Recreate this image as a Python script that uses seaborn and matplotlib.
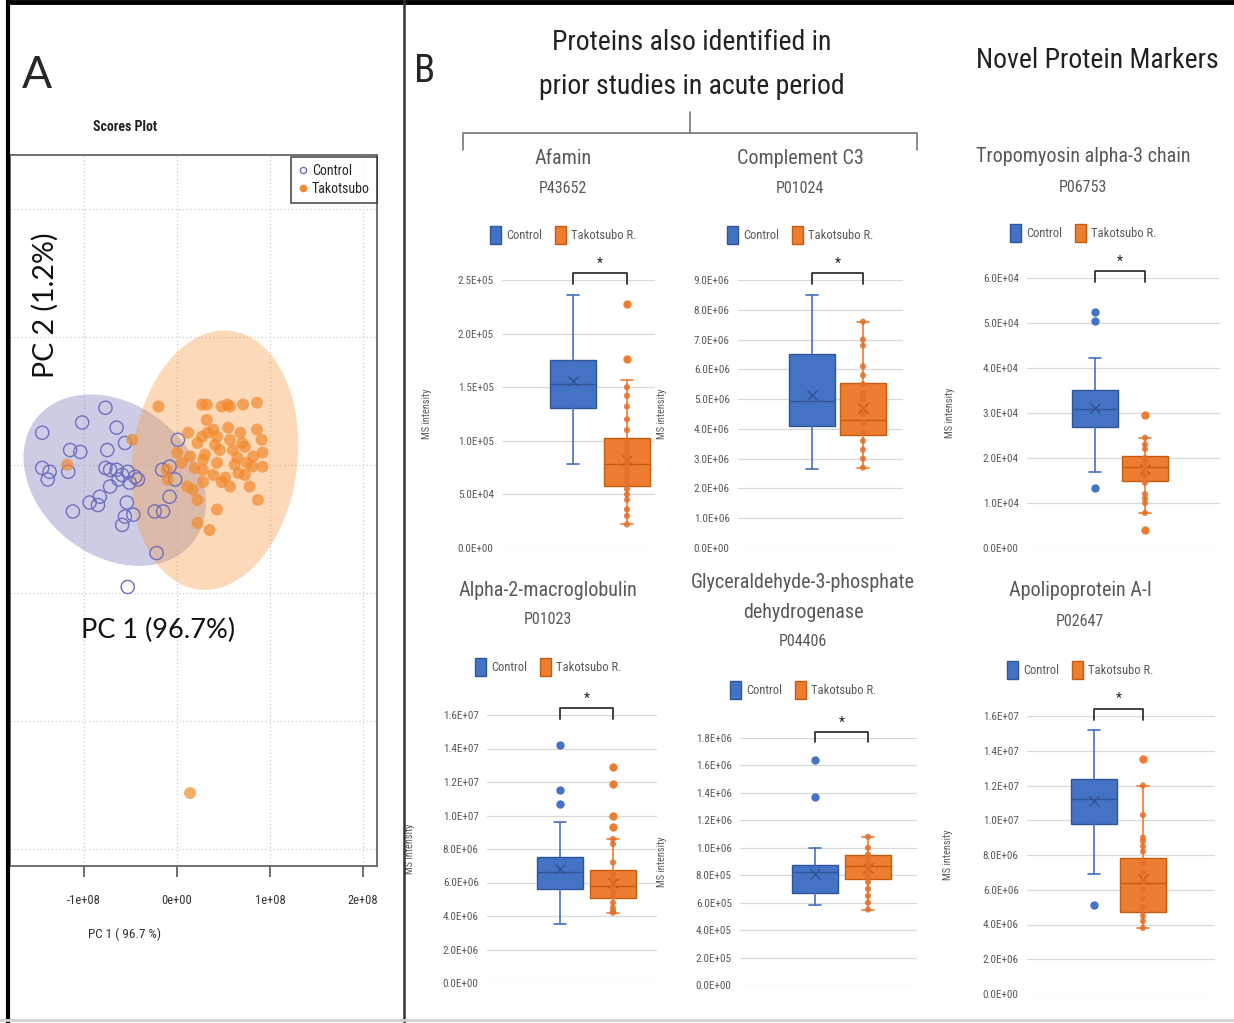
import numpy as np
import matplotlib
matplotlib.use("Agg")
import matplotlib.pyplot as plt
import matplotlib.font_manager as fm
from matplotlib.patches import Ellipse, Patch
from matplotlib.lines import Line2D
from matplotlib.ticker import FuncFormatter
import seaborn as sns

sns.set_style("white")

avail = {f.name for f in fm.fontManager.ttflist}
NARROW = next((f for f in ["Liberation Sans Narrow", "Roboto Condensed", "Open Sans Condensed", "Lato"] if f in avail), "DejaVu Sans")
REG = "Lato" if "Lato" in avail else "DejaVu Sans"
plt.rcParams["font.family"] = [NARROW, "DejaVu Sans"]

# ---------------- data: panel A (PCA scores) ----------------
# PC1 in units of 1e8, PC2 in units of 1e7
ctrl_pc1 = [-1.45, -1.02, -0.77, -0.65, -1.15, -1.04, -0.56, -0.75, -1.45, -1.37, -1.39, -1.17, -0.77,
            -0.72, -0.65, -0.59, -0.53, -0.45, -0.63, -0.42, -0.51, -0.72, -0.83, -0.94, -0.85, -1.12,
            -0.54, -0.56, -0.59, -0.47, -0.16, -0.08, -0.02, -0.08, -0.24, -0.15, 0.01, -0.22, -0.53]
ctrl_pc2 = [0.50, 0.66, 0.89, 0.58, 0.23, 0.20, 0.34, 0.23, -0.05, -0.11, -0.23, -0.11, -0.05,
            -0.08, -0.08, -0.16, -0.11, -0.19, -0.23, -0.23, -0.28, -0.34, -0.50, -0.59, -0.63, -0.73,
            -0.59, -0.81, -0.94, -0.78, -0.08, -0.03, -0.23, -0.50, -0.73, -0.73, 0.39, -1.38, -1.91]
tako_pc1 = [-0.20, -0.48, -1.18, 0.27, 0.32, 0.48, 0.54, 0.57, 0.71, 0.86, 0.32, 0.39, 0.33, 0.43, 0.27,
            0.55, 0.57, 0.68, 0.86, 0.91, 0.12, 0.22, 0.46, 0.60, 0.73, 0.82, 0.92, 0.14, 0.28, 0.43,
            0.65, 0.75, 0.92, 0.19, 0.28, 0.39, 0.52, 0.66, 0.81, -0.11, 0.05, 0.11, 0.17, 0.28, 0.48,
            0.78, 0.22, 0.87, 0.43, 0.22, 0.35, 0.00, -0.10, 0.57, 0.70, 0.41, 0.62, 0.30, 0.73, 0.14]
tako_pc2 = [0.91, 0.39, 0.00, 0.94, 0.94, 0.91, 0.94, 0.91, 0.94, 0.97, 0.70, 0.55, 0.50, 0.44, 0.44,
            0.58, 0.39, 0.50, 0.55, 0.39, 0.50, 0.34, 0.23, 0.23, 0.28, 0.13, 0.19, 0.13, 0.08, 0.03,
            0.11, 0.03, -0.03, -0.05, -0.08, -0.16, -0.20, -0.13, -0.03, -0.08, 0.03, -0.34, -0.39, -0.27,
            -0.27, -0.34, -0.55, -0.55, -0.70, -0.91, -1.02, 0.19, -0.23, -0.34, 0.34, 0.31, 0.00, 0.16,
            -0.16, -5.13]

# ---------------- data: panel B (box plots) ----------------
proteins = ["Afamin", "Complement C3", "Tropomyosin alpha-3 chain",
            "Alpha-2-macroglobulin", "Glyceraldehyde-3-phosphate\ndehydrogenase", "Apolipoprotein A-I"]
accessions = ["P43652", "P01024", "P06753", "P01023", "P04406", "P02647"]
y_max = [2.5e5, 9e6, 6e4, 1.6e7, 1.8e6, 1.6e7]
y_step = [5e4, 1e6, 1e4, 2e6, 2e5, 2e6]
# whislo, q1, median, q3, whishi
control_box = [[0.78e5, 1.31e5, 1.53e5, 1.755e5, 2.36e5],
               [2.65e6, 4.1e6, 4.95e6, 6.5e6, 8.5e6],
               [1.68e4, 2.68e4, 3.1e4, 3.52e4, 4.22e4],
               [3.5e6, 5.6e6, 6.6e6, 7.5e6, 9.6e6],
               [5.8e5, 6.7e5, 8.2e5, 8.75e5, 1.0e6],
               [6.9e6, 9.8e6, 1.12e7, 1.235e7, 1.52e7]]
control_mean = [1.56e5, 5.15e6, 3.12e4, 6.8e6, 8.1e5, 1.11e7]
control_out = [[], [], [5.25e4, 5.05e4, 1.33e4], [1.42e7, 1.15e7, 1.07e7], [1.64e6, 1.37e6], [5.1e6]]
tako_box = [[0.22e5, 0.575e5, 0.78e5, 1.025e5, 1.57e5],
            [2.7e6, 3.78e6, 4.3e6, 5.55e6, 7.6e6],
            [0.78e4, 1.5e4, 1.8e4, 2.05e4, 2.45e4],
            [4.2e6, 5.1e6, 5.8e6, 6.75e6, 8.6e6],
            [5.5e5, 7.75e5, 8.7e5, 9.45e5, 1.08e6],
            [3.8e6, 4.7e6, 6.4e6, 7.8e6, 1.2e7]]
tako_mean = [0.82e5, 4.7e6, 1.75e4, 6.0e6, 8.5e5, 6.6e6]
tako_out = [[1.76e5, 2.28e5], [], [2.95e4, 0.4e4], [1.29e7, 1.19e7, 1.0e7, 9.3e6], [], [1.35e7]]
tako_points = [
    [1.5e5, 1.42e5, 1.32e5, 1.2e5, 1.1e5, 1.0e5, 0.95e5, 0.9e5, 0.85e5, 0.8e5, 0.75e5, 0.7e5,
     0.65e5, 0.6e5, 0.55e5, 0.5e5, 0.45e5, 0.36e5, 0.3e5, 0.22e5],
    [7.6e6, 7.0e6, 6.8e6, 6.1e6, 5.8e6, 5.5e6, 5.2e6, 5.0e6, 4.7e6, 4.5e6, 4.2e6, 3.9e6, 3.6e6,
     3.3e6, 3.0e6, 2.7e6],
    [2.45e4, 2.3e4, 2.2e4, 2.0e4, 1.9e4, 1.8e4, 1.7e4, 1.6e4, 1.45e4, 1.2e4, 1.1e4, 1.0e4, 0.78e4],
    [8.6e6, 8.3e6, 7.2e6, 6.5e6, 6.2e6, 5.8e6, 5.5e6, 5.2e6, 4.8e6, 4.5e6, 4.3e6, 4.2e6],
    [1.08e6, 1.0e6, 0.95e6, 0.92e6, 0.88e6, 0.85e6, 0.82e6, 0.8e6, 0.75e6, 0.7e6, 0.65e6, 0.6e6, 0.55e6],
    [1.2e7, 1.03e7, 9.0e6, 8.8e6, 8.5e6, 8.2e6, 7.5e6, 7.0e6, 6.5e6, 6.0e6, 5.5e6, 5.0e6, 4.5e6,
     4.2e6, 3.8e6],
]

# ---------------- layout (pixels) ----------------
W, H = 1234, 1023
# x0, x1, ytop, ybottom, control centre, tako centre, title centre x, title y, legend y, ylabel x
layout = [
    (502, 655, 280, 548, 573, 627, 563, 158, 235, 432),
    (738, 903, 280, 548, 812, 863, 800, 158, 235, 667),
    (1027, 1220, 278, 548, 1095, 1145, 1083, 157, 233, 955),
    (487, 657, 715, 983, 560, 613, 548, 590, 667, 415),
    (740, 917, 738, 985, 815, 868, 803, 582, 690, 667),
    (1027, 1215, 716, 994, 1094, 1143, 1080, 591, 670, 953),
]

BLUE, BLUE_D = "#4472C4", "#2F5597"
ORANGE, ORANGE_D = "#ED7D31", "#C55A11"
GRAY = "#595959"


def fx(x):
    return x / W


def fy(y):
    return 1 - y / H


def rect(x0, x1, yt, yb):
    return [fx(x0), fy(yb), (x1 - x0) / W, (yb - yt) / H]


fig = plt.figure(figsize=(W / 100, H / 100), dpi=100)

# ---------------- panel A ----------------
axA = fig.add_axes(rect(10, 377, 155, 866))
c1 = np.array(ctrl_pc1) * 1e8
c2 = np.array(ctrl_pc2) * 1e7
t1 = np.array(tako_pc1) * 1e8
t2 = np.array(tako_pc2) * 1e7


def conf_ellipse(x, y, ax, **kw):
    cov = np.cov(x, y)
    vals, vecs = np.linalg.eigh(cov)
    order = vals.argsort()[::-1]
    vals, vecs = vals[order], vecs[:, order]
    angle = np.degrees(np.arctan2(vecs[1, 0], vecs[0, 0]))
    k = np.sqrt(5.991)
    ax.add_patch(Ellipse((x.mean(), y.mean()), 2 * k * np.sqrt(vals[0]), 2 * k * np.sqrt(vals[1]),
                         angle=angle, lw=0, **kw))


conf_ellipse(c1, c2, axA, facecolor="#8080c0", alpha=0.4, zorder=1)
conf_ellipse(t1, t2, axA, facecolor="#f5a050", alpha=0.4, zorder=1)

sns.scatterplot(x=c1, y=c2, ax=axA, marker="o", s=90, facecolor="none",
                edgecolor="#6f6fc0", linewidth=1.0, zorder=3)
sns.scatterplot(x=t1, y=t2, ax=axA, marker="o", s=75, color="#f28a2e",
                edgecolor="none", linewidth=0, alpha=0.7, zorder=3)

axA.set_xlim(-1.796e8, 2.15e8)
axA.set_ylim(-6.27e7, 4.84e7)
axA.set_xticks([-1e8, 0, 1e8, 2e8])
axA.set_yticks([-6e7, -4e7, -2e7, 0, 2e7, 4e7])
axA.xaxis.set_major_formatter(FuncFormatter(lambda v, p: f"{v:.0e}"))
axA.set_yticklabels([])
axA.tick_params(axis="x", direction="out", length=8, width=1.2, color="#555555", pad=12,
                labelsize=9, labelcolor="#333333", bottom=True)
axA.tick_params(axis="y", length=0)
axA.grid(True, linestyle=(0, (1, 2)), color="#cccccc", linewidth=0.9)
for s in axA.spines.values():
    s.set_color("#666666")
    s.set_linewidth(1.3)
axA.set_xlabel("PC 1 ( 96.7 %)", fontsize=9.5, color="#333333")
axA.xaxis.set_label_coords((125 - 10) / 367, -0.086)
axA.set_ylabel("")
leg_handles = [Line2D([], [], marker="o", ls="none", markerfacecolor="none", markeredgecolor="#6f6fc0",
                      markersize=4.5, label="Control"),
               Line2D([], [], marker="o", ls="none", color="#f28a2e", markersize=4.5, label="Takotsubo")]
legA = axA.legend(handles=leg_handles, loc="upper right", bbox_to_anchor=(1.0, 0.997), fontsize=10,
                  frameon=True, fancybox=False, edgecolor="#222222", borderaxespad=0,
                  handletextpad=0.3, handlelength=0.7, labelspacing=0.3, borderpad=0.5)
legA.get_frame().set_linewidth(1.2)

fig.text(fx(37), fy(76), "A", fontsize=32, family=REG, ha="center", va="center")
fig.text(fx(125), fy(127), "Scores Plot", fontsize=10, fontweight="bold", ha="center", va="center",
         color="#222222")
fig.text(fx(45), fy(305), "PC 2 (1.2%)", fontsize=20.5, family=REG, rotation=90, ha="center",
         va="center", color="#111111")
fig.text(fx(158), fy(630), "PC 1 (96.7%)", fontsize=19.5, family=REG, ha="center", va="center",
         color="#111111")

# ---------------- panel B header ----------------
fig.text(fx(425), fy(72), "B", fontsize=28, ha="center", va="center")
fig.text(fx(692), fy(42), "Proteins also identified in", fontsize=20, ha="center", va="center",
         color="#222222")
fig.text(fx(692), fy(87), "prior studies in acute period", fontsize=20, ha="center", va="center",
         color="#222222")
fig.text(fx(1097), fy(60), "Novel Protein Markers", fontsize=20, ha="center", va="center",
         color="#222222")
br = dict(color="#777777", lw=1.2)
fig.add_artist(Line2D([fx(463), fx(463), fx(917), fx(917)], [fy(150), fy(133), fy(133), fy(150)], **br))
fig.add_artist(Line2D([fx(690), fx(690)], [fy(133), fy(112)], **br))

# ---------------- panel B box plots ----------------
for i, name in enumerate(proteins):
    x0, x1, yt, yb, cpx, tpx, tcx, ty, ly, ylx = layout[i]
    ax = fig.add_axes(rect(x0, x1, yt, yb))
    unit = tpx - cpx
    w = 46 / unit
    stats = []
    for box, mean, out in [(control_box[i], control_mean[i], control_out[i]),
                           (tako_box[i], tako_mean[i], tako_out[i])]:
        stats.append(dict(whislo=box[0], q1=box[1], med=box[2], q3=box[3], whishi=box[4],
                          mean=mean, fliers=out))
    bp = ax.bxp(stats, positions=[0, 1], widths=w, capwidths=[12 / unit] * 2, patch_artist=True,
                showmeans=True, manage_ticks=False)
    for k, (fc, ec) in enumerate([(BLUE, BLUE_D), (ORANGE, ORANGE_D)]):
        bp["boxes"][k].set(facecolor=fc, edgecolor=ec, linewidth=1.0, zorder=2)
        bp["medians"][k].set(color=ec, linewidth=1.0)
        bp["means"][k].set(marker="x", markeredgecolor=ec, markersize=7, markeredgewidth=1.0)
        for ln in bp["whiskers"][2 * k:2 * k + 2] + bp["caps"][2 * k:2 * k + 2]:
            ln.set(color=fc, linewidth=1.2)
        bp["fliers"][k].set(marker="o", markerfacecolor=fc, markeredgecolor=fc, markersize=5)
    sns.scatterplot(x=np.ones(len(tako_points[i])), y=tako_points[i], ax=ax, color="#e3702a",
                    edgecolor="none", linewidth=0, s=20, alpha=0.85, zorder=4)

    ax.set_xlim((x0 - cpx) / unit, (x1 - cpx) / unit)
    ax.set_ylim(0, y_max[i])
    ticks = np.arange(0, y_max[i] + y_step[i] / 2, y_step[i])
    ax.set_yticks(ticks)
    ax.set_yticklabels([f"{v:.1E}" for v in ticks])
    ax.set_xticks([])
    ax.tick_params(axis="y", length=0, pad=6, labelsize=8, labelcolor=GRAY)
    ax.grid(True, axis="y", color="#d9d9d9", linewidth=0.9)
    ax.set_axisbelow(True)
    sns.despine(ax=ax, left=True, bottom=True)
    ax.set_ylabel("MS intensity", fontsize=7.5, color=GRAY)
    ax.yaxis.set_label_coords((ylx - x0) / (x1 - x0), 0.5)

    # significance bracket
    tr = ax.get_xaxis_transform()
    ax.plot([0, 0, 1, 1], [0.985, 1.025, 1.025, 0.985], transform=tr, color="#333333", lw=1.3,
            clip_on=False)
    ax.text(0.5, 1.035, "*", transform=tr, ha="center", va="bottom", fontsize=10, color="#222222")

    # legend
    handles = [Patch(facecolor=BLUE, edgecolor=BLUE_D, label="Control"),
               Patch(facecolor=ORANGE, edgecolor=ORANGE_D, label="Takotsubo R.")]
    ax.legend(handles=handles, loc="center", bbox_to_anchor=((tcx - x0) / (x1 - x0), (yb - ly) / (yb - yt)),
              ncol=2, frameon=False, fontsize=9, handlelength=0.9, handleheight=1.8,
              columnspacing=1.0, handletextpad=0.4, labelcolor=GRAY, borderaxespad=0)

    # titles
    lines = name.split("\n")
    for j, line in enumerate(lines):
        fig.text(fx(tcx), fy(ty + 30 * j), line, fontsize=14.5, color=GRAY, ha="center", va="center")
    fig.text(fx(tcx), fy(ty + 30 * len(lines)), accessions[i], fontsize=11.5, color=GRAY,
             ha="center", va="center")

# ---------------- panel borders ----------------
fig.add_artist(Line2D([fx(8), fx(8)], [0, 1], color="black", lw=3))
fig.add_artist(Line2D([fx(8), 1], [fy(2), fy(2)], color="black", lw=3.5))
fig.add_artist(Line2D([fx(404), fx(404)], [0, 1], color="#333333", lw=1.8))
fig.add_artist(Line2D([0, 1], [fy(1020), fy(1020)], color="#d0d0d0", lw=2))

fig.savefig("out.png", dpi=100)
